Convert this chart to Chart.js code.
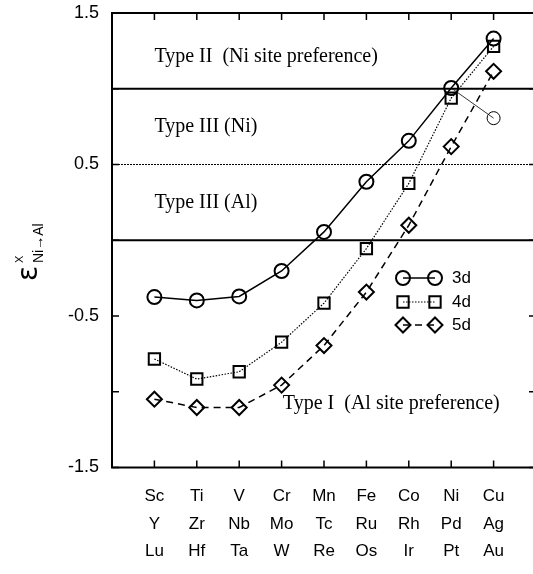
<!DOCTYPE html>
<html>
<head>
<meta charset="utf-8">
<script src="https://cdn.jsdelivr.net/npm/chart.js@4.4.1/dist/chart.umd.min.js"></script>
<style>
  html, body { margin: 0; padding: 0; background: #fff; overflow: hidden; }
  canvas { display: block; }
</style>
</head>
<body>
<canvas id="chart" width="537" height="574"></canvas>
<script>
// Element rows under each column
const row3d = ['Sc', 'Ti', 'V', 'Cr', 'Mn', 'Fe', 'Co', 'Ni', 'Cu'];
const row4d = ['Y', 'Zr', 'Nb', 'Mo', 'Tc', 'Ru', 'Rh', 'Pd', 'Ag'];
const row5d = ['Lu', 'Hf', 'Ta', 'W', 'Re', 'Os', 'Ir', 'Pt', 'Au'];
const columns = [1, 2, 3, 4, 5, 6, 7, 8, 9];

// epsilon^X (Ni->Al) per series
const eps3d = [-0.375, -0.397, -0.371, -0.203, 0.055, 0.386, 0.656, 1.005, 1.331];
const eps4d = [-0.784, -0.916, -0.868, -0.673, -0.415, -0.055, 0.375, 0.938, 1.28];
const eps5d = [-1.049, -1.104, -1.104, -0.956, -0.695, -0.342, 0.099, 0.618, 1.115];
// extra 3d Cu value, joined to Ni by a thin line
const cuAltColumns = [8, 9];
const cuAltValues = [1.005, 0.806];

const yTickLabels = [1.5, 0.5, -0.5, -1.5];
const boundaries = [1.0, 0.5, 0.0];
const regionNames = ['Type II  (Ni site preference)', 'Type III (Ni)', 'Type III (Al)', 'Type I  (Al site preference)'];
const seriesNames = ['3d', '4d', '5d'];

const toPoints = (xs, ys) => xs.map((x, i) => ({ x, y: ys[i] }));
const clear = 'rgba(0,0,0,0)';

const datasets = [
  { label: seriesNames[0], data: toPoints(columns, eps3d), borderColor: '#000', borderWidth: 1.5,
    pointStyle: 'circle', pointRadius: 7, pointBorderWidth: 2, pointBackgroundColor: clear, pointBorderColor: '#000' },
  { label: seriesNames[1], data: toPoints(columns, eps4d), borderColor: '#000', borderWidth: 1.2, borderDash: [1.5, 1.5],
    pointStyle: 'rect', pointRadius: 8, pointBorderWidth: 2, pointBackgroundColor: clear, pointBorderColor: '#000' },
  { label: seriesNames[2], data: toPoints(columns, eps5d), borderColor: '#000', borderWidth: 1.5, borderDash: [7, 5],
    pointStyle: 'rectRot', pointRadius: 7.5, pointBorderWidth: 2, pointBackgroundColor: clear, pointBorderColor: '#000' },
  { label: 'Cu alt', data: toPoints(cuAltColumns, cuAltValues), borderColor: '#000', borderWidth: 0.8,
    pointStyle: 'circle', pointRadius: [0, 6.5], pointBorderWidth: 1, pointBackgroundColor: clear, pointBorderColor: '#000' }
];

// boundaries between site-preference regions
const regionLines = {
  id: 'regionLines',
  beforeDatasetsDraw(chart) {
    const { ctx, chartArea: a, scales: { y } } = chart;
    ctx.save();
    ctx.strokeStyle = '#000';
    boundaries.forEach(v => {
      const py = y.getPixelForValue(v);
      const dotted = v === 0.5;
      ctx.lineWidth = dotted ? 1.2 : 2;
      ctx.setLineDash(dotted ? [2, 1] : []);
      ctx.beginPath();
      ctx.moveTo(a.left, py);
      ctx.lineTo(a.right, py);
      ctx.stroke();
    });
    ctx.restore();
  }
};

// frame, inward ticks, element rows, region names, legend, axis title
const decorations = {
  id: 'decorations',
  afterDatasetsDraw(chart) {
    const { ctx, chartArea: a, scales: { x, y } } = chart;
    ctx.save();
    ctx.strokeStyle = '#000';
    ctx.fillStyle = '#000';
    ctx.lineWidth = 2;
    ctx.setLineDash([]);
    ctx.strokeRect(a.left, a.top, a.right - a.left, a.bottom - a.top);

    ctx.lineWidth = 1.5;
    const tl = 7;
    columns.forEach(c => {
      const px = x.getPixelForValue(c);
      ctx.beginPath();
      ctx.moveTo(px, a.bottom); ctx.lineTo(px, a.bottom - tl);
      ctx.moveTo(px, a.top); ctx.lineTo(px, a.top + tl);
      ctx.stroke();
    });
    for (let v = -1.5; v <= 1.5; v += 0.5) {
      const py = y.getPixelForValue(v);
      ctx.beginPath();
      ctx.moveTo(a.left, py); ctx.lineTo(a.left + tl, py);
      ctx.moveTo(a.right, py); ctx.lineTo(a.right - tl, py);
      ctx.stroke();
    }

    // element names, three rows under each column
    ctx.font = '17px "Liberation Sans"';
    ctx.textAlign = 'center';
    ctx.textBaseline = 'middle';
    [row3d, row4d, row5d].forEach((row, r) => {
      row.forEach((name, i) => {
        ctx.fillText(name, x.getPixelForValue(columns[i]), a.bottom + 29 + r * 27.5);
      });
    });

    // region names
    const spots = [[1, 1.21], [1, 0.748], [1, 0.245], [4.03, -1.08]];
    ctx.font = '20px "Liberation Serif"';
    ctx.textAlign = 'left';
    regionNames.forEach((t, i) => {
      ctx.fillText(t, x.getPixelForValue(spots[i][0]), y.getPixelForValue(spots[i][1]));
    });

    // legend: marker - line - marker, name
    const rows = [278, 302, 325];
    const x1 = 403, x2 = 435, xt = 452;
    ctx.font = '17px "Liberation Sans"';
    datasets.slice(0, 3).forEach((ds, i) => {
      const ly = rows[i];
      ctx.lineWidth = ds.borderWidth;
      ctx.setLineDash(ds.borderDash || []);
      ctx.beginPath();
      ctx.moveTo(x1, ly); ctx.lineTo(x2, ly);
      ctx.stroke();
      ctx.setLineDash([]);
      ctx.lineWidth = ds.pointBorderWidth;
      ctx.fillStyle = clear;
      const opts = { pointStyle: ds.pointStyle, radius: ds.pointRadius, rotation: 0, borderWidth: ds.pointBorderWidth };
      Chart.helpers.drawPoint(ctx, opts, x1, ly);
      Chart.helpers.drawPoint(ctx, opts, x2, ly);
      ctx.fillStyle = '#000';
      ctx.fillText(ds.label, xt, ly);
    });

    // y axis title: epsilon with superscript X and subscript Ni->Al
    ctx.rotate(-Math.PI / 2);
    ctx.textBaseline = 'alphabetic';
    ctx.textAlign = 'left';
    ctx.font = '28px "DejaVu Sans"';
    ctx.fillText('\u03b5', -281, 37);
    ctx.font = '11px "Liberation Sans"';
    ctx.fillText('X', -263, 23);
    ctx.font = '14px "Liberation Sans"';
    ctx.fillText('Ni\u2192Al', -263, 43);
    ctx.restore();
  }
};

new Chart(document.getElementById('chart'), {
  type: 'line',
  data: { datasets },
  options: {
    responsive: false,
    devicePixelRatio: 1,
    animation: false,
    layout: { autoPadding: false, padding: { top: 13, right: 1, left: 0, bottom: 0 } },
    plugins: { legend: { display: false }, tooltip: { enabled: false } },
    scales: {
      x: {
        type: 'linear', min: 0, max: 10,
        grid: { display: false, drawTicks: false },
        border: { display: false },
        afterBuildTicks: s => { s.ticks = columns.map(v => ({ value: v })); },
        afterFit: s => { s.height = 106.5; },
        ticks: { display: false }
      },
      y: {
        type: 'linear', min: -1.5, max: 1.5,
        grid: { display: false, drawTicks: false },
        border: { display: false },
        afterBuildTicks: s => { s.ticks = yTickLabels.map(v => ({ value: v })); },
        afterFit: s => { s.width = 112; s.paddingTop = 0; s.paddingBottom = 0; },
        ticks: {
          padding: 13, color: '#000',
          font: { family: 'Liberation Sans', size: 18 },
          callback: v => v.toFixed(1)
        }
      }
    }
  },
  plugins: [regionLines, decorations]
});
</script>
</body>
</html>
